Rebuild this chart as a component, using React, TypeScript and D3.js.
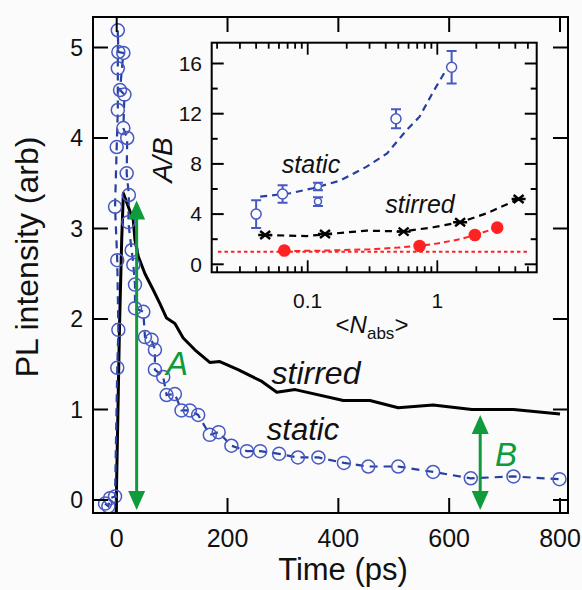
import React from "react";
import * as d3 from "d3";

// ---------- main panel data ----------
const timeTicks = [0, 200, 400, 600, 800];
const plTicks = [0, 1, 2, 3, 4, 5];

const staticTime = [-21, -15, -12, -3, 1, 3, 1, -3, 0, 2, 2, 2, 3, 12, 6, 14, 12, 19, 18, 22, 21, 27, 30, 33, 33, 48, 51, 63, 69, 69, 84, 90, 105, 117, 132, 147, 168, 184, 207, 235, 259, 293, 327, 364, 410, 454, 508, 571, 639, 716, 799];
const staticPL = [-0.04, -0.07, 0.02, 0.04, 1.46, 1.88, 2.65, 3.24, 3.9, 4.31, 4.77, 5.19, 4.95, 4.94, 4.53, 4.48, 4.11, 4.0, 3.61, 3.37, 3.07, 2.76, 2.6, 2.38, 2.12, 2.08, 1.8, 1.77, 1.66, 1.44, 1.36, 1.16, 1.17, 0.99, 0.99, 0.94, 0.72, 0.75, 0.6, 0.54, 0.54, 0.51, 0.47, 0.47, 0.41, 0.37, 0.37, 0.31, 0.24, 0.26, 0.23];

const stirredTime = [-1, 0, 2, 5, 9, 12, 21, 30, 33, 39, 51, 66, 78, 90, 105, 120, 141, 168, 186, 219, 262, 289, 322, 409, 457, 508, 571, 641, 716, 800];
const stirredPL = [-0.14, 0.25, 0.9, 1.9, 2.87, 3.39, 3.24, 3.09, 2.87, 2.69, 2.5, 2.32, 2.17, 2.01, 1.95, 1.79, 1.66, 1.52, 1.53, 1.44, 1.31, 1.19, 1.22, 1.1, 1.1, 1.02, 1.05, 1.0, 1.0, 0.95];

const arrowTime = [36, 656];
const arrowLow = [-0.11, -0.11];
const arrowHigh = [3.31, 0.94];
const arrowNames = ["A", "B"];

// ---------- inset data ----------
const abTicks = [0, 4, 8, 12, 16];
const abMinor = [2, 6, 10, 14];
const nTicks = [0.1, 1];
const nTickLabels = ["0.1", "1"];

const staticN = [0.04, 0.064, 0.12, 0.12, 0.48, 1.29];
const staticAB = [4.0, 5.6, 6.2, 5.0, 11.6, 15.7];
const staticErr = [1.1, 0.7, 0.3, 0.35, 0.75, 1.3];
const staticFitN = [0.043, 0.073, 0.11, 0.177, 0.285, 0.41, 0.58, 0.73, 0.93, 1.17];
const staticFitAB = [5.39, 5.66, 6.06, 6.66, 7.78, 8.84, 10.7, 11.76, 13.75, 15.5];

const stirredN = [0.047, 0.136, 0.55, 1.5, 4.24];
const stirredAB = [2.33, 2.41, 2.6, 3.35, 5.2];
const stirredFitN = [0.047, 0.098, 0.167, 0.285, 0.55, 0.93, 1.5, 2.4, 4.24];
const stirredFitAB = [2.33, 2.25, 2.47, 2.68, 2.62, 2.95, 3.35, 4.06, 5.2];

const ratioN = [0.066, 0.73, 1.95, 2.9];
const ratioAB = [1.1, 1.46, 2.33, 2.92];
const ratioFitN = [0.066, 0.15, 0.3, 0.5, 0.73, 1.0, 1.5, 1.95, 2.9];
const ratioFitAB = [1.05, 1.1, 1.2, 1.33, 1.48, 1.66, 2.0, 2.33, 2.92];

const unityN = [0.0203, 5.02];
const unityAB = [1, 1];

// ---------- layout ----------
const W = 582;
const H = 590;
const M = { left: 93, right: 568, top: 17, bottom: 513 };
const I = { left: 211.7, right: 536.7, top: 42.7, bottom: 272.3 };

const FONT = "'Liberation Sans', Arial, Helvetica, sans-serif";
const BLUE_C = "#4759c2";
const BLUE_L = "#26409e";
const GREEN = "#0f9a3c";
const RED = "#ff2222";

const x = d3.scaleLinear().domain([0, 800]).range([116.7, 560]);
const y = d3.scaleLinear().domain([0, 5]).range([500, 47.5]);

const xi = d3.scaleLog().domain([0.1, 1]).range([307.7, 437.3]);
const yi = d3.scaleLinear().domain([0, 16]).range([264.3, 63.5]);

const lineMain = d3.line<[number, number]>().x((d) => x(d[0])).y((d) => y(d[1]));
const lineInset = d3.line<[number, number]>().x((d) => xi(d[0])).y((d) => yi(d[1]));

const zip = (a: number[], b: number[]): [number, number][] => a.map((v, i) => [v, b[i]]);

function logTicks(): { v: number; major: boolean }[] {
  const out: { v: number; major: boolean }[] = [];
  for (let e = -2; e <= 1; e++) {
    for (let k = 1; k <= 9; k++) {
      const v = k * Math.pow(10, e);
      const px = xi(v);
      if (px > I.left + 1 && px < I.right - 1) out.push({ v, major: k === 1 });
    }
  }
  return out;
}

function Arrow({ xp, y1, y2 }: { xp: number; y1: number; y2: number }) {
  const hl = 19;
  const hw = 8.5;
  return (
    <g>
      <line x1={xp} x2={xp} y1={y2 + hl - 2} y2={y1 - hl + 2} stroke={GREEN} strokeWidth={3} />
      <polygon points={`${xp},${y2} ${xp - hw},${y2 + hl} ${xp + hw},${y2 + hl}`} fill={GREEN} />
      <polygon points={`${xp},${y1} ${xp - hw},${y1 - hl} ${xp + hw},${y1 - hl}`} fill={GREEN} />
    </g>
  );
}

export default function App() {
  const staticPts = zip(staticTime, staticPL);
  const stirredPts = zip(stirredTime, stirredPL);
  const lt = logTicks();

  return (
    <svg
      width={W}
      height={H}
      style={{ position: "absolute", left: 0, top: 0, display: "block", background: "#fbfbfb" }}
      fontFamily={FONT}
    >
      <rect x={0} y={0} width={W} height={H} fill="#fbfbfb" />
      <defs>
        <clipPath id="mainClip">
          <rect x={M.left} y={M.top} width={M.right - M.left} height={M.bottom - M.top} />
        </clipPath>
        <clipPath id="insetClip">
          <rect x={I.left} y={I.top} width={I.right - I.left} height={I.bottom - I.top} />
        </clipPath>
      </defs>

      {/* ===== main panel ===== */}
      <g clipPath="url(#mainClip)">
        <path d={lineMain(stirredPts) || ""} fill="none" stroke="#000" strokeWidth={3} strokeLinejoin="round" />
        <path d={lineMain(staticPts) || ""} fill="none" stroke={BLUE_L} strokeWidth={2.2} strokeDasharray="8,6" />
        {staticPts.map((d, i) => (
          <circle key={i} cx={x(d[0])} cy={y(d[1])} r={6.5} fill="none" stroke={BLUE_C} strokeWidth={1.5} />
        ))}
      </g>

      {/* frame */}
      <rect x={M.left} y={M.top} width={M.right - M.left} height={M.bottom - M.top} fill="none" stroke="#000" strokeWidth={2} />
      {plTicks.map((t) => (
        <g key={"yt" + t}>
          <line x1={M.left} x2={M.left + 15} y1={y(t)} y2={y(t)} stroke="#000" strokeWidth={2} />
          <line x1={M.right} x2={M.right - 15} y1={y(t)} y2={y(t)} stroke="#000" strokeWidth={2} />
          <text x={83} y={y(t)} dy="0.35em" textAnchor="end" fontSize={23} fill="#111">
            {t}
          </text>
        </g>
      ))}
      {timeTicks.map((t) => (
        <g key={"xt" + t}>
          <line x1={x(t)} x2={x(t)} y1={M.bottom} y2={M.bottom - 15} stroke="#000" strokeWidth={2} />
          <line x1={x(t)} x2={x(t)} y1={M.top} y2={M.top + 15} stroke="#000" strokeWidth={2} />
          <text x={x(t)} y={547} textAnchor="middle" fontSize={25} fill="#111">
            {t}
          </text>
        </g>
      ))}
      <text x={343} y={580} textAnchor="middle" fontSize={31} fill="#111">
        Time (ps)
      </text>
      <text transform="translate(38,257) rotate(-90)" textAnchor="middle" fontSize={32} fill="#111">
        PL intensity (arb)
      </text>

      {/* arrows */}
      {arrowTime.map((t, i) => (
        <Arrow key={"ar" + i} xp={x(t)} y1={y(arrowLow[i])} y2={y(arrowHigh[i])} />
      ))}
      <text x={166} y={375} fontSize={33} fontStyle="italic" fill={GREEN}>
        {arrowNames[0]}
      </text>
      <text x={495} y={466} fontSize={33} fontStyle="italic" fill={GREEN}>
        {arrowNames[1]}
      </text>

      <text x={316} y={384} textAnchor="middle" fontSize={32} fontStyle="italic" fill="#111">
        stirred
      </text>
      <text x={303} y={440} textAnchor="middle" fontSize={31} fontStyle="italic" fill="#111">
        static
      </text>

      {/* ===== inset ===== */}
      <rect x={I.left} y={I.top} width={I.right - I.left} height={I.bottom - I.top} fill="#fbfbfb" />
      <g clipPath="url(#insetClip)">
        <path d={lineInset(zip(unityN, unityAB)) || ""} fill="none" stroke={RED} strokeWidth={2} strokeDasharray="3.5,3" />
        <path d={lineInset(zip(ratioFitN, ratioFitAB)) || ""} fill="none" stroke={RED} strokeWidth={2} strokeDasharray="6,4" />
        <path d={lineInset(zip(stirredFitN, stirredFitAB)) || ""} fill="none" stroke="#000" strokeWidth={2.2} strokeDasharray="7,5" />
        <path d={lineInset(zip(staticFitN, staticFitAB)) || ""} fill="none" stroke={BLUE_L} strokeWidth={2.2} strokeDasharray="7,5" />

        {staticN.map((n, i) => {
          const cx = xi(n);
          const top = yi(staticAB[i] + staticErr[i]);
          const bot = yi(staticAB[i] - staticErr[i]);
          return (
            <g key={"se" + i} stroke={BLUE_C} strokeWidth={2} fill="none">
              <line x1={cx} x2={cx} y1={top} y2={bot} />
              <line x1={cx - 5} x2={cx + 5} y1={top} y2={top} />
              <line x1={cx - 5} x2={cx + 5} y1={bot} y2={bot} />
              <circle cx={cx} cy={yi(staticAB[i])} r={staticErr[i] < 0.5 ? 3.5 : 5} strokeWidth={1.5} fill="#fbfbfb" />
            </g>
          );
        })}

        {stirredN.map((n, i) => {
          const cx = xi(n);
          const cy = yi(stirredAB[i]);
          return (
            <g key={"st" + i} stroke="#000" strokeWidth={2.4}>
              <line x1={cx - 5} x2={cx + 5} y1={cy - 4} y2={cy + 4} />
              <line x1={cx - 5} x2={cx + 5} y1={cy + 4} y2={cy - 4} />
              <line x1={cx - 7} x2={cx + 7} y1={cy} y2={cy} />
            </g>
          );
        })}

        {ratioN.map((n, i) => (
          <circle key={"rd" + i} cx={xi(n)} cy={yi(ratioAB[i])} r={6.3} fill={RED} />
        ))}
      </g>

      <rect x={I.left} y={I.top} width={I.right - I.left} height={I.bottom - I.top} fill="none" stroke="#000" strokeWidth={2} />
      {abTicks.map((t) => (
        <g key={"ai" + t}>
          <line x1={I.left} x2={I.left + 12} y1={yi(t)} y2={yi(t)} stroke="#000" strokeWidth={2} />
          <line x1={I.right} x2={I.right - 12} y1={yi(t)} y2={yi(t)} stroke="#000" strokeWidth={2} />
          <text x={202} y={yi(t)} dy="0.35em" textAnchor="end" fontSize={21} fill="#111">
            {t}
          </text>
        </g>
      ))}
      {abMinor.map((t) => (
        <g key={"am" + t}>
          <line x1={I.left} x2={I.left + 6} y1={yi(t)} y2={yi(t)} stroke="#000" strokeWidth={2} />
          <line x1={I.right} x2={I.right - 6} y1={yi(t)} y2={yi(t)} stroke="#000" strokeWidth={2} />
        </g>
      ))}
      {lt.map((t, i) => {
        const px = xi(t.v);
        const len = t.major ? 12 : 6;
        return (
          <g key={"lt" + i}>
            <line x1={px} x2={px} y1={I.bottom} y2={I.bottom - len} stroke="#000" strokeWidth={1.8} />
            <line x1={px} x2={px} y1={I.top} y2={I.top + len} stroke="#000" strokeWidth={1.8} />
          </g>
        );
      })}
      {nTicks.map((t, i) => (
        <text key={"nl" + i} x={xi(t)} y={308} textAnchor="middle" fontSize={21} fill="#111">
          {nTickLabels[i]}
        </text>
      ))}
      <text x={372} y={333} textAnchor="middle" fontSize={24} fill="#111">
        {"<"}
        <tspan fontStyle="italic">N</tspan>
        <tspan fontSize={17} dy={6}>
          abs
        </tspan>
        <tspan dy={-6}>{">"}</tspan>
      </text>
      <text transform="translate(172,160) rotate(-90)" textAnchor="middle" fontSize={28} fontStyle="italic" fill="#111">
        A/B
      </text>
      <text x={311} y={173} textAnchor="middle" fontSize={25} fontStyle="italic" fill="#111">
        static
      </text>
      <text x={420} y={213} textAnchor="middle" fontSize={25} fontStyle="italic" fill="#111">
        stirred
      </text>
    </svg>
  );
}
